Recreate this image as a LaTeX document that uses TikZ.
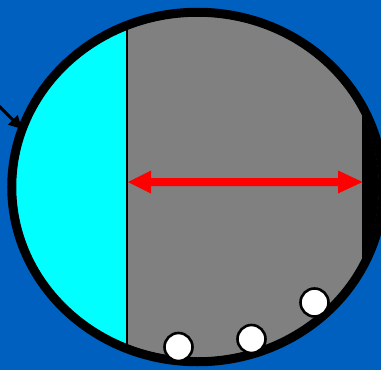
\documentclass[tikz,border=0pt]{standalone}
\usetikzlibrary{arrows.meta}
\definecolor{bgblue}{RGB}{0,96,192}
\definecolor{midgray}{RGB}{128,128,128}
\definecolor{aqua}{RGB}{0,255,255}
\tikzset{
  ring/.style={draw=black,line width=9pt},
  ball/.style={circle,draw=black,line width=2.6pt,fill=white,minimum size=28pt,inner sep=0pt},
  redarrow/.style={fill=red},
  pointer/.style={draw=black,line width=3pt,-{Triangle[length=13pt,width=13pt]}}
}
\begin{document}
\begin{tikzpicture}[x=1pt,y=-1pt]
\useasboundingbox (0,0) rectangle (381,370);
\fill[bgblue] (0,0) rectangle (381,370);
\begin{scope}
  \clip (197.5,187) ellipse [x radius=181.5, y radius=170.5];
  \fill[midgray] (0,0) rectangle (381,370);
  \fill[aqua] (0,0) rectangle (126.5,370);
  \fill[black] (362,0) rectangle (390,370);
  \draw[black,line width=2pt] (127,0) -- (127,370);
\end{scope}
\draw[ring] (197.5,187) ellipse [x radius=185.75, y radius=174.75];
% red double arrow
\coordinate (L) at (128,182);
\coordinate (R) at (362.5,182);
\fill[redarrow] (L) -- (151,170.5) -- (151,178) -- (338,178) -- (338,170.5) -- (R)
  -- (338,193.5) -- (338,186) -- (151,186) -- (151,193.5) -- cycle;
% pointer arrow
\coordinate (ps) at (-6,101);
\coordinate (pe) at (22,129);
\draw[pointer] (ps) -- (pe);
% balls
\node[ball] (b1) at (178.5,347) {};
\node[ball] (b2) at (251.5,339) {};
\node[ball] (b3) at (314.5,302.5) {};
\end{tikzpicture}
\end{document}
